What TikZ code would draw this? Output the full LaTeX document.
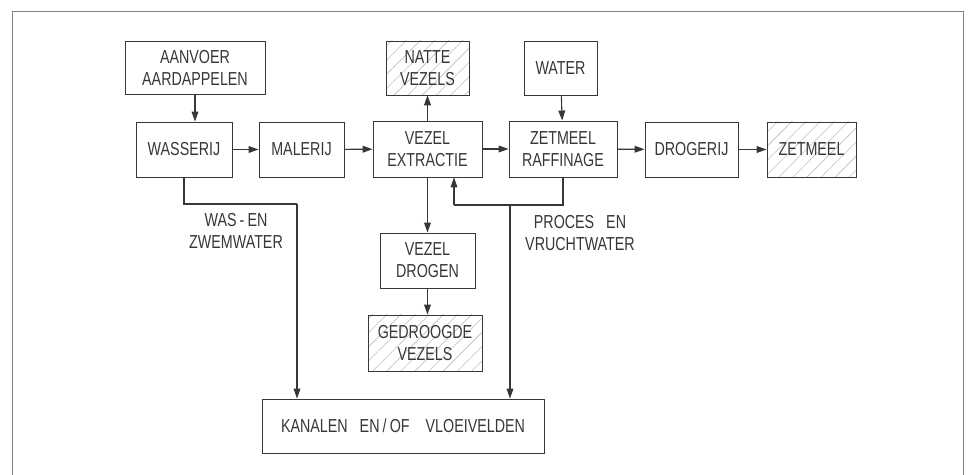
\documentclass[tikz,border=0pt]{standalone}
\usepackage{fontspec}
\setmainfont{Liberation Sans}[FakeStretch=0.76]
\usepackage{tikz}
\usetikzlibrary{arrows.meta, patterns.meta}
\definecolor{inkt}{RGB}{55,55,55}
\definecolor{arcering}{RGB}{190,190,190}

\begin{document}
\begin{tikzpicture}[x=0.5pt, y=-0.5pt, font=\fontsize{9.4}{11}\selectfont, inkt,
  blok/.style={draw=inkt, line width=0.45pt, align=center, inner sep=0pt},
  product/.style={blok, pattern={Lines[angle=45, distance=5pt, line width=0.3pt]}, pattern color=arcering},
  stroom/.style={line width=0.55pt, -{Triangle[length=5pt, width=3.4pt]}},
  leiding/.style={line width=0.55pt}]
\useasboundingbox (0,0) rectangle (970,475);
% kader
\draw[line width=0.5pt, gray] (12,475) -- (12,12) -- (963,12) -- (963,475);
% blokken
\node[blok, minimum width=70pt, minimum height=26.5pt] (aanvoer) at (195,67.5) {AANVOER\\AARDAPPELEN};
\node[blok, minimum width=48pt, minimum height=27.5pt] (wasserij) at (184,149.5) {WASSERIJ};
\node[blok, minimum width=42.5pt, minimum height=27.5pt] (malerij) at (301.5,149.5) {MALERIJ};
\node[blok, minimum width=54.5pt, minimum height=28pt] (extractie) at (427.5,149) {VEZEL\\EXTRACTIE};
\node[product, minimum width=41.5pt, minimum height=27pt] (natte) at (427.5,68) {NATTE\\VEZELS};
\node[blok, minimum width=36.5pt, minimum height=27pt] (water) at (560.5,68) {WATER};
\node[blok, minimum width=54pt, minimum height=28pt] (raffinage) at (563,149) {ZETMEEL\\RAFFINAGE};
\node[blok, minimum width=46.5pt, minimum height=27.5pt] (drogerij) at (691.5,149.5) {DROGERIJ};
\node[product, minimum width=44.5pt, minimum height=27.5pt] (zetmeel) at (811.5,149.5) {ZETMEEL};
\node[blok, minimum width=47.5pt, minimum height=27.5pt] (drogen) at (427.5,260.5) {VEZEL\\DROGEN};
\node[product, minimum width=57pt, minimum height=28pt] (gedroogd) at (425,343) {GEDROOGDE\\VEZELS};
\node[blok, minimum width=141pt, minimum height=27pt] (kanalen) at (403,426) {KANALEN\hspace{6pt}EN\,/\,OF\hspace{8pt}VLOEIVELDEN};
% hoofdlijn
\draw[stroom] (aanvoer.south) -- (aanvoer.south |- wasserij.north);
\draw[stroom] (wasserij) -- (malerij);
\draw[stroom] (malerij) -- (extractie);
\draw[stroom] (extractie) -- (raffinage);
\draw[stroom] (raffinage) -- (drogerij);
\draw[stroom] (drogerij) -- (zetmeel);
\draw[stroom] (extractie) -- (natte);
\draw[stroom] (water) -- (raffinage);
\draw[stroom] (extractie) -- (drogen);
\draw[stroom] (drogen.south) -- (drogen.south |- gedroogd.north);
% afvalwater
\coordinate (wasknik) at (297,204);
\draw[leiding] (wasserij.south) |- (wasknik);
\draw[stroom] (wasknik) -- (wasknik |- kanalen.north);
\node[align=center] (waslabel) at (236,231) {WAS\,-\,EN\\ZWEMWATER};
\coordinate (retour) at (454,205);
\coordinate (afvoer) at (510,205);
\draw[leiding] (raffinage.south) |- (retour);
\draw[stroom] (retour) -- (retour |- extractie.south);
\draw[stroom] (afvoer) -- (afvoer |- kanalen.north);
\node[align=center] (proceslabel) at (580,233) {PROCES\hspace{6pt}EN\\VRUCHTWATER};
\end{tikzpicture}
\end{document}
